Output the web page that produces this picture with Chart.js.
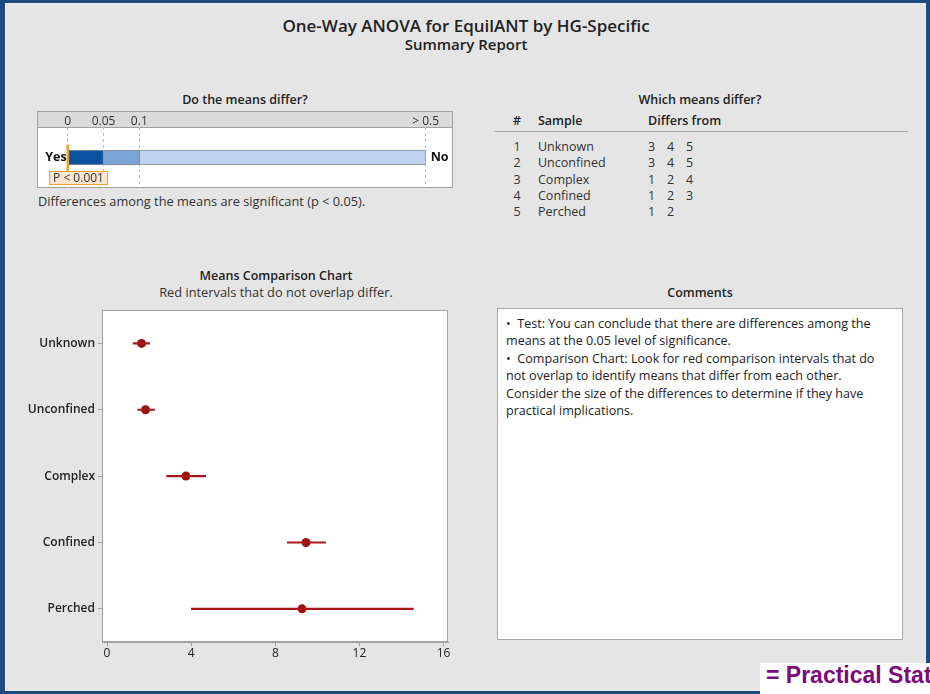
<!DOCTYPE html>
<html>
<head>
<meta charset="utf-8">
<script src="https://cdn.jsdelivr.net/npm/chart.js@4.4.1/dist/chart.umd.min.js"></script>
<style>
  body { margin: 0; width: 930px; height: 694px; background: #1d4a80; overflow: hidden;
         font-family: 'Open Sans', sans-serif; color: #222; }
  #panel { position: absolute; left: 5px; top: 3px; width: 919px; height: 686px;
           background: #e5e5e5; border: 1px solid #efefef; }
  .c { position: absolute; white-space: nowrap; transform: translate(-50%, -50%); }
  .l { position: absolute; white-space: nowrap; transform: translateY(-50%); }
  .b { font-weight: 600; }
  #pwrap { position: absolute; left: 37px; top: 111px; width: 416px; height: 77px; }
  #mwrap { position: absolute; left: 20px; top: 300px; width: 440px; height: 370px; }
  #comments { position: absolute; left: 497px; top: 308px; width: 406px; height: 332px;
              background: #fff; border: 1px solid #a8a8a8; box-sizing: border-box;
              padding: 6px 8px; font-size: 12.6px; line-height: 17.4px; color: #222; }
  #rule { position: absolute; left: 494px; top: 131px; width: 414px; height: 1px; background: #aaa; }
  #logo { position: absolute; left: 760px; top: 663px; width: 170px; height: 31px; background: #fff;
          overflow: hidden; }
  #logo span { position: absolute; left: 6px; top: -1px; font-family: 'Liberation Sans', Arial, sans-serif;
               font-weight: bold; font-size: 23px; color: #7b0a7d; white-space: nowrap; }
  .num span { display: inline-block; width: 19px; }
</style>
</head>
<body>
<div id="panel"></div>

<div class="c b" style="left:466px;top:25px;font-size:17px;">One-Way ANOVA for EquilANT by HG-Specific</div>
<div class="c b" style="left:466px;top:44px;font-size:15px;">Summary Report</div>

<div class="c b" style="left:245px;top:99px;font-size:12.5px;">Do the means differ?</div>
<div id="pwrap"><canvas id="pchart"></canvas></div>
<div class="l" style="left:38px;top:201px;font-size:12.8px;color:#333;">Differences among the means are significant (p &lt; 0.05).</div>

<div class="c b" style="left:700px;top:99px;font-size:12.5px;">Which means differ?</div>
<div id="table"></div>
<div id="rule"></div>

<div class="c b" style="left:276px;top:275px;font-size:12.5px;">Means Comparison Chart</div>
<div class="c" style="left:276px;top:292px;font-size:12.8px;color:#333;">Red intervals that do not overlap differ.</div>
<div id="mwrap"><canvas id="mchart"></canvas></div>

<div class="c b" style="left:700px;top:292px;font-size:12.5px;">Comments</div>
<div id="comments">
  &bull;&nbsp; Test: You can conclude that there are differences among the means at the 0.05 level of significance.<br>
  &bull;&nbsp; Comparison Chart: Look for red comparison intervals that do not overlap to identify means that differ from each other. Consider the size of the differences to determine if they have practical implications.
</div>

<div id="logo"><span>= Practical Statistics</span></div>

<script>
// group means and comparison intervals
const groups = ['Unknown', 'Unconfined', 'Complex', 'Confined', 'Perched'];
const means = [1.64, 1.83, 3.75, 9.46, 9.27];
const lower = [1.24, 1.46, 2.83, 8.57, 4.01];
const upper = [2.02, 2.26, 4.69, 10.39, 14.56];
const xTicks = [0, 4, 8, 12, 16];

// "which means differ" table
const differsFrom = [[3, 4, 5], [3, 4, 5], [1, 2, 4], [1, 2, 3], [1, 2]];

// p-value bar
const pBands = [[0, 0.05], [0.05, 0.1], [0.1, 0.5]];
const pColors = ['#0a53a3', '#7ba5d8', '#bcd2ee'];
const pTicks = [0, 0.05, 0.1, 0.5];
const pTickLabels = ['0', '0.05', '0.1', '> 0.5'];
const pValue = 0.0005;
const pText = 'P < 0.001';

const FONT = "'Open Sans', sans-serif";

// table
let html = '';
const rowY = [146, 162, 178.5, 195, 211];
html += '<div class="c" style="left:517px;top:120px;font-size:12.5px;font-weight:600">#</div>';
html += '<div class="l b" style="left:538px;top:120px;font-size:12.5px">Sample</div>';
html += '<div class="l b" style="left:648px;top:120px;font-size:12.5px">Differs from</div>';
groups.forEach(function(g, i) {
  html += '<div class="c" style="left:517px;top:' + rowY[i] + 'px;font-size:12.5px;color:#333">' + (i + 1) + '</div>';
  html += '<div class="l" style="left:538px;top:' + rowY[i] + 'px;font-size:12.5px;color:#333">' + g + '</div>';
  html += '<div class="l num" style="left:648px;top:' + rowY[i] + 'px;font-size:12.5px;color:#333">' +
          differsFrom[i].map(function(d){ return '<span>' + d + '</span>'; }).join('') + '</div>';
});
document.getElementById('table').innerHTML = html;

// p-value chart
const pBoxPlugin = {
  id: 'pbox',
  beforeDraw(chart) {
    const ctx = chart.ctx, w = chart.width, h = chart.height;
    ctx.save();
    ctx.fillStyle = '#dadada';
    ctx.fillRect(0, 0, w, 16);
    ctx.fillStyle = '#ffffff';
    ctx.fillRect(0, 16, w, h - 16);
    ctx.strokeStyle = '#a0a0a0';
    ctx.lineWidth = 1;
    ctx.strokeRect(0.5, 0.5, w - 1, h - 1);
    ctx.beginPath(); ctx.moveTo(0, 16.5); ctx.lineTo(w, 16.5); ctx.stroke();
    ctx.restore();
  },
  afterDatasetsDraw(chart) {
    const ctx = chart.ctx;
    const xs = chart.scales.x;
    const ys = chart.scales.y;
    const cy = ys.getPixelForValue(0);
    const px = xs.getPixelForValue(pValue);
    ctx.save();
    ctx.font = 'bold 12.5px ' + FONT;
    ctx.fillStyle = '#111';
    ctx.textBaseline = 'middle';
    ctx.textAlign = 'right';
    ctx.fillText('Yes', xs.left - 1, cy);
    ctx.textAlign = 'left';
    ctx.fillText('No', xs.right + 5, cy);
    // marker
    ctx.fillStyle = '#f0a032';
    ctx.fillRect(px - 1.5, cy - 13, 2.5, 27);
    // p label
    ctx.font = '12px ' + FONT;
    const tw = ctx.measureText(pText).width;
    const bx = px - 19, by = 60, bw = tw + 8, bh = 14;
    ctx.fillStyle = '#fbe6cf';
    ctx.fillRect(bx, by, bw, bh);
    ctx.strokeStyle = '#f0a032';
    ctx.strokeRect(bx + 0.5, by + 0.5, bw - 1, bh - 1);
    ctx.fillStyle = '#333';
    ctx.textAlign = 'left';
    ctx.fillText(pText, bx + 4, by + bh / 2 + 0.5);
    ctx.restore();
  }
};

new Chart(document.getElementById('pchart'), {
  type: 'bar',
  data: {
    labels: ['p'],
    datasets: pBands.map(function(b, i) {
      return {
        data: [b],
        backgroundColor: pColors[i],
        borderColor: '#8c8c8c',
        borderWidth: 1,
        borderSkipped: false,
        barThickness: 15,
        grouped: false
      };
    })
  },
  options: {
    indexAxis: 'y',
    responsive: true,
    maintainAspectRatio: false,
    animation: false,
    layout: { padding: { left: 30.7, right: 27.3, top: 0, bottom: 0 } },
    plugins: { legend: { display: false }, tooltip: { enabled: false } },
    scales: {
      x: {
        type: 'linear',
        position: 'top',
        min: 0,
        max: 0.5,
        afterBuildTicks(scale) { scale.ticks = pTicks.map(function(v){ return { value: v }; }); },
        afterFit(scale) { scale.height = 16; },
        ticks: {
          callback: function(v, i) { return pTickLabels[i]; },
          font: { family: FONT, size: 12 },
          color: '#333',
          maxRotation: 0,
          padding: -2
        },
        grid: { color: '#bdbdbd', drawTicks: false, tickLength: 0 },
        border: { display: false, dash: [3, 3] }
      },
      y: { display: false }
    }
  },
  plugins: [pBoxPlugin]
});

// means comparison chart
const plotFrame = {
  id: 'plotframe',
  beforeDraw(chart) {
    const a = chart.chartArea, ctx = chart.ctx;
    ctx.save();
    ctx.fillStyle = '#ffffff';
    ctx.fillRect(a.left, a.top, a.right - a.left, a.bottom - a.top);
    ctx.restore();
  },
  afterDraw(chart) {
    const a = chart.chartArea, ctx = chart.ctx;
    ctx.save();
    ctx.strokeStyle = '#a3a3a3';
    ctx.lineWidth = 1;
    ctx.strokeRect(Math.round(a.left) + 0.5, Math.round(a.top) + 0.5,
                   Math.round(a.right - a.left) - 1, Math.round(a.bottom - a.top) - 1);
    ctx.restore();
  }
};

new Chart(document.getElementById('mchart'), {
  type: 'bar',
  data: {
    labels: groups,
    datasets: [
      {
        type: 'bar',
        data: lower.map(function(l, i){ return [l, upper[i]]; }),
        backgroundColor: '#a81818',
        borderWidth: 0,
        barThickness: 1.5,
        grouped: false
      },
      {
        type: 'line',
        indexAxis: 'y',
        data: means,
        showLine: false,
        pointRadius: 4.5,
        pointBackgroundColor: '#9a1010',
        pointBorderColor: '#9a1010',
        pointBorderWidth: 0
      }
    ]
  },
  options: {
    indexAxis: 'y',
    responsive: true,
    maintainAspectRatio: false,
    animation: false,
    layout: { padding: { left: 0, right: 12, top: 9, bottom: 0 } },
    plugins: { legend: { display: false }, tooltip: { enabled: false } },
    scales: {
      x: {
        type: 'linear',
        min: -0.24,
        max: 16.21,
        afterBuildTicks(scale) { scale.ticks = xTicks.map(function(v){ return { value: v }; }); },
        afterFit(scale) { scale.height = 28; },
        ticks: { font: { family: FONT, size: 12 }, color: '#222', padding: 0, maxRotation: 0 },
        grid: { drawOnChartArea: false, tickLength: 4, tickColor: '#a3a3a3' },
        border: { color: '#a3a3a3' }
      },
      y: {
        type: 'category',
        afterFit(scale) { scale.width = 82; },
        ticks: { font: { family: FONT, size: 12, weight: '600' }, color: '#222', padding: 3 },
        grid: { drawOnChartArea: false, offset: false, tickLength: 4, tickColor: '#a3a3a3' },
        border: { color: '#a3a3a3' }
      }
    }
  },
  plugins: [plotFrame]
});
</script>
</body>
</html>
